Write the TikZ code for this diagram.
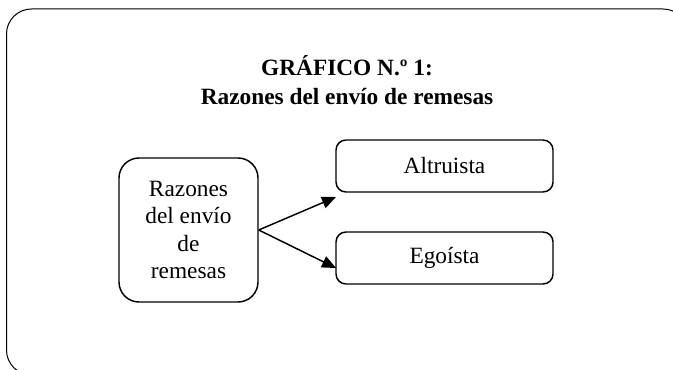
\documentclass[tikz,border=0pt]{standalone}
\usepackage{fontspec}
\setmainfont{Liberation Serif}
\usetikzlibrary{arrows.meta}

\tikzset{every picture/.style={line width=0.75pt}}
\tikzset{
	caja/.style={draw, line width=1.1pt, rounded corners=7.5pt, minimum width=162.75pt, minimum height=39pt, inner sep=0pt, font=\fontsize{17.5}{20.3}\selectfont},
	cajarazones/.style={caja, rounded corners=15pt, minimum width=104.25pt, minimum height=108pt, align=center},
	flecha/.style={line width=1.1pt, -{Triangle[length=10.5pt,width=9pt]}}
}

\begin{document}
\begin{tikzpicture}[x=0.75pt,y=0.75pt,yscale=-1,xscale=1]
	\useasboundingbox (0,0) rectangle (673,370);

	%Shape: Rounded Rect (marco)
	\begin{scope}
	\clip (0,0) rectangle (673,370);
	\draw [rounded corners=18.75pt] (6.5,9) rectangle (688,375);
	\end{scope}

	% Text Node
	\node (titulo) at (347,80) [font=\bfseries\fontsize{17.5}{21.75}\selectfont, align=center] {GRÁFICO N.º 1:\\Razones del envío de remesas};

	%Shape: Rounded Rect
	\node [cajarazones] (razones) at (188.5,230) {Razones\\del envío\\de\\remesas};
	%Shape: Rounded Rect
	\node [caja] (altruista) at (444.5,166) {Altruista};
	%Shape: Rounded Rect
	\node [caja] (egoista) at (444.5,258) {Egoísta};

	%Straight Lines
	\coordinate (puntaA) at (336,197);
	\coordinate (puntaB) at (336,268);
	\draw [flecha] (razones.east) -- (puntaA);
	\draw [flecha] (razones.east) -- (puntaB);

\end{tikzpicture}
\end{document}
